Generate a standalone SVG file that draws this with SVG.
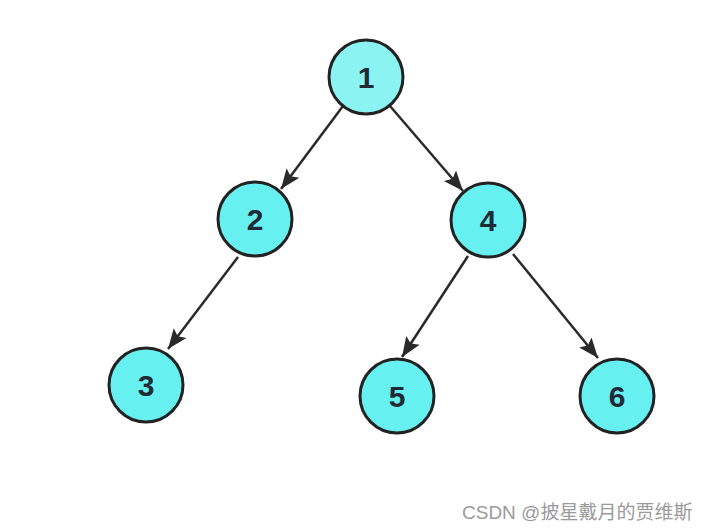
<svg xmlns="http://www.w3.org/2000/svg" width="709" height="529" viewBox="0 0 709 529">
<style>
.n{fill:#66f0f0;stroke:#222;stroke-width:3}
.t{font-family:"Liberation Sans",Arial,sans-serif;font-weight:bold;font-size:30px;fill:#1e2a36;text-anchor:middle;dominant-baseline:central}
.e{stroke:#2a2a2a;stroke-width:2.5;fill:none;marker-end:url(#a)}
.w{font-family:"Liberation Sans","Noto Sans CJK SC",sans-serif;font-size:19px;fill:#9a9a9a}
</style>
<defs>
<marker id="a" markerUnits="userSpaceOnUse" markerWidth="22" markerHeight="18" refX="20" refY="9" orient="auto" style="overflow:visible">
<path d="M0,1 L20,9 L0,17 L4,9 Z" fill="#2a2a2a"/>
</marker>
</defs>
<rect width="709" height="529" fill="#fff"/>
<g id="connectors">
<line class="e" x1="343" y1="106" x2="281" y2="189"/>
<line class="e" x1="390" y1="106" x2="463" y2="191"/>
<line class="e" x1="238" y1="257" x2="168" y2="349"/>
<line class="e" x1="468" y1="256" x2="402" y2="357"/>
<line class="e" x1="513" y1="254" x2="598" y2="358"/>
</g>
<g id="node1"><circle class="n" cx="366" cy="77" r="37" style="fill:#8cf3f3"/><text class="t" x="366" y="77">1</text></g>
<g id="node2"><circle class="n" cx="255" cy="219" r="37"/><text class="t" x="255" y="219">2</text></g>
<g id="node4"><circle class="n" cx="488" cy="220" r="37"/><text class="t" x="488" y="220">4</text></g>
<g id="node3"><circle class="n" cx="146" cy="385" r="37"/><text class="t" x="146" y="385">3</text></g>
<g id="node5"><circle class="n" cx="397" cy="396" r="37"/><text class="t" x="397" y="396">5</text></g>
<g id="node6"><circle class="n" cx="617" cy="396" r="37"/><text class="t" x="617" y="396">6</text></g>
<text class="w" x="462" y="519">CSDN @披星戴月的贾维斯</text>
</svg>
